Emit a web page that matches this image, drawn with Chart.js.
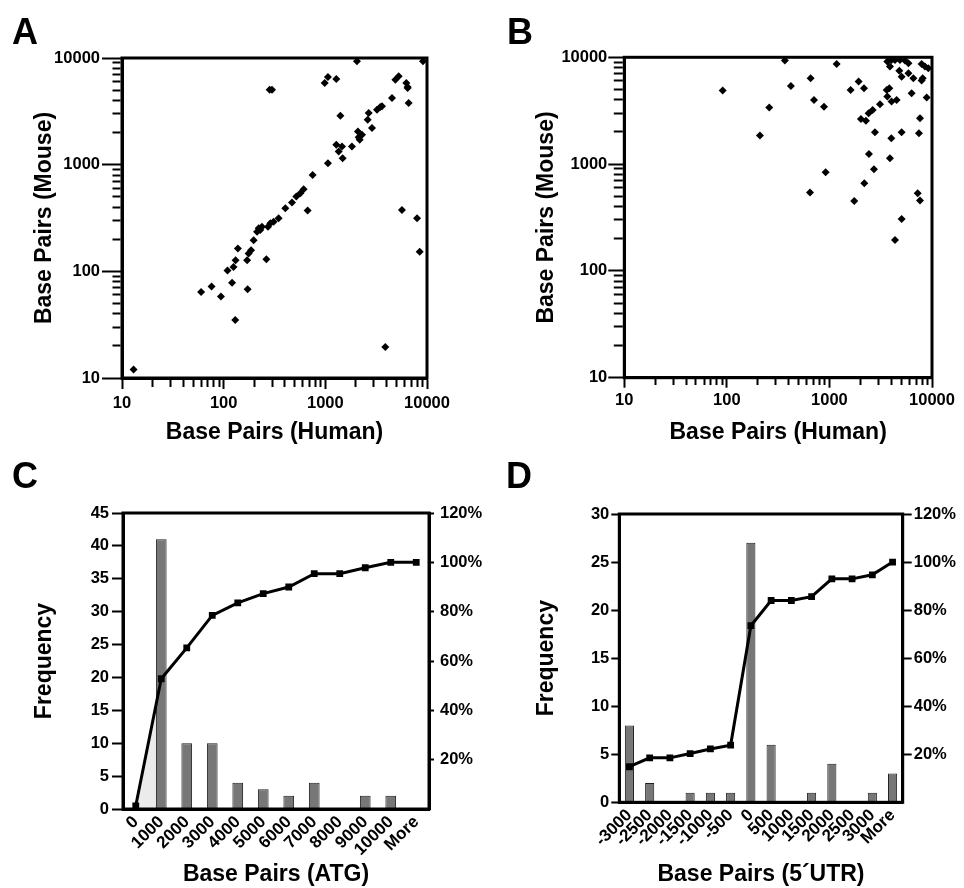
<!DOCTYPE html>
<html>
<head>
<meta charset="utf-8">
<script src="https://cdn.jsdelivr.net/npm/chart.js@4.4.1/dist/chart.umd.min.js"></script>
<style>
    body { margin: 0; background: #fff; overflow: hidden; }
    .painel { position: absolute; width: 482px; height: 444px; }
    .letra { position: absolute; font: bold 36px "Liberation Sans", Arial, sans-serif; line-height: 1; color: #000; }
</style>
</head>
<body>
<div class="painel" style="left:0;top:0"><canvas id="graficoA"></canvas></div>
<div class="painel" style="left:482px;top:0"><canvas id="graficoB"></canvas></div>
<div class="painel" style="left:0;top:444px"><canvas id="graficoC"></canvas></div>
<div class="painel" style="left:482px;top:444px"><canvas id="graficoD"></canvas></div>
<div class="letra" style="left:12px;top:14px">A</div>
<div class="letra" style="left:507px;top:14px">B</div>
<div class="letra" style="left:12px;top:458px">C</div>
<div class="letra" style="left:506px;top:458px">D</div>

<script>
// Panel A: intron lengths, human vs mouse
const humanoA = [13, 60, 76, 94, 109, 121, 125, 131, 138, 130, 170, 176, 172, 186, 197, 213, 221, 229, 238, 263,
    273, 288, 299, 283, 310, 347, 404, 470, 518, 568, 612, 670, 750, 985, 1061, 1283, 1061, 1283, 1405, 1353,
    1459, 1480, 1828, 2047, 2094, 2128, 2176, 2295, 2608, 2668, 2877, 3223, 3475, 3608, 4526, 4883, 5265, 5670,
    6262, 6450, 6450, 6600, 7980, 8475, 9140, 3890];
const camundongoA = [12, 64, 72, 58, 102, 78, 110, 127, 164, 35, 127, 147, 68, 158, 196, 235, 253, 244, 262, 130,
    262, 282, 5050, 5050, 292, 314, 390, 441, 502, 539, 589, 371, 802, 5820, 6640, 6350, 1033, 1536, 2872, 1327,
    1480, 1148, 1480, 9310, 2046, 1811, 1709, 1906, 2636, 3048, 2201, 3274, 3467, 3520, 4211, 6252, 6730, 376,
    5820, 5223, 5345, 3777, 314, 153, 9310, 19.5];

// Panel B
const humanoB = [91, 210, 259, 368, 421, 656, 707, 646, 885, 918, 1175, 1610, 1927, 2172, 2187, 1746, 2028, 2270,
    2410, 2636, 2427, 2778, 2717, 3110, 3615, 3837, 3667, 4036, 4518, 4009, 3890, 4355, 5057, 5057, 7640, 7460,
    7250, 7640, 8870, 3665, 4036, 4355, 4870, 5450, 5890, 3890, 4800, 5057, 5890, 6580, 6330, 7920, 8110, 7920,
    8530, 9200];
const camundongoB = [4875, 1850, 3380, 9310, 5400, 6370, 3980, 541, 3450, 838, 8670, 4940, 5920, 5130, 661, 452,
    2650, 2553, 2990, 3213, 1245, 1986, 893, 3630, 4940, 5130, 4285, 3846, 3980, 1746, 1133, 195, 1986, 306, 2685,
    1942, 533, 455, 4197, 9120, 9440, 9440, 9440, 9310, 8790, 8180, 7500, 6590, 7080, 6370, 4600, 6050, 6370, 8670,
    8180, 7890];

const ticksLog = [10, 20, 30, 40, 50, 60, 70, 80, 90, 100, 200, 300, 400, 500, 600, 700, 800, 900,
    1000, 2000, 3000, 4000, 5000, 6000, 7000, 8000, 9000, 10000];
const rotulosLog = [10, 100, 1000, 10000];

// Panel C: distance to ATG
const categoriasC = ['0', '1000', '2000', '3000', '4000', '5000', '6000', '7000', '8000', '9000', '10000', 'More'];
const frequenciaC = [0, 41, 10, 10, 4, 3, 2, 4, 0, 2, 2, 0];
const acumuladoC = [1.3, 52.8, 65.3, 78.5, 83.6, 87.3, 90, 95.4, 95.4, 97.8, 100, 100];

// Panel D: 5'UTR
const categoriasD = ['-3000', '-2500', '-2000', '-1500', '-1000', '-500', '0', '500', '1000', '1500', '2000', '2500', '3000', 'More'];
const frequenciaD = [8, 2, 0, 1, 1, 1, 27, 6, 0, 1, 4, 0, 1, 3];
const acumuladoD = [14.8, 18.5, 18.5, 20.3, 22.2, 23.8, 73.5, 84, 84, 85.6, 93, 93, 94.7, 100];

Chart.defaults.font.family = '"Liberation Sans", Arial, Helvetica, sans-serif';
Chart.defaults.font.weight = 'bold';
Chart.defaults.color = '#000';
Chart.defaults.animation = false;
Chart.defaults.plugins.legend.display = false;
Chart.defaults.plugins.tooltip.enabled = false;

const fonteTick = { size: 16.5, weight: 'bold' };
const fonteTitulo = { size: 23, weight: 'bold', lineHeight: 1 };

// caixa fechada em volta da area do grafico
const moldura = {
    id: 'moldura',
    afterDraw(chart) {
        const a = chart.chartArea;
        const ctx = chart.ctx;
        ctx.save();
        ctx.strokeStyle = '#000';
        ctx.lineWidth = 3;
        ctx.strokeRect(a.left, a.top, a.right - a.left, a.bottom - a.top);
        ctx.restore();
    }
};

function eixoLog(posicao, titulo, tamanho, marca, marcaMenor, espaco, tituloPad) {
    const horizontal = posicao === 'bottom';
    return {
        type: 'logarithmic',
        position: posicao,
        min: 10,
        max: 10000,
        afterBuildTicks: (eixo) => { eixo.ticks = ticksLog.map(v => ({ value: v })); },
        afterFit: (eixo) => { if (horizontal) eixo.height = tamanho; else eixo.width = tamanho; },
        border: { color: '#000', width: 3 },
        grid: {
            drawOnChartArea: false,
            tickLength: marca,
            tickWidth: 2,
            tickColor: '#000',
            // marcas menores mais curtas
            tickBorderDash: (c) => (!c.tick || rotulosLog.includes(c.tick.value)) ? [] :
                (horizontal ? [marcaMenor, 100] : [0, marca - 1.5 - marcaMenor, marcaMenor, 100])
        },
        ticks: {
            autoSkip: false,
            maxRotation: 0,
            padding: espaco,
            font: fonteTick,
            callback: (v) => rotulosLog.includes(v) ? String(v) : ''
        },
        title: {
            display: true,
            text: titulo,
            font: fonteTitulo,
            padding: horizontal ? { top: 0, bottom: tituloPad } : { top: tituloPad, bottom: 0 }
        }
    };
}

function criarGraficoLog(id, humano, camundongo, cfg) {
    const pontos = humano.map((h, i) => ({ x: h, y: camundongo[i] }));
    return new Chart(id, {
        type: 'scatter',
        data: {
            datasets: [{
                data: pontos,
                pointStyle: 'rectRot',
                pointRadius: 4,
                backgroundColor: '#000',
                borderWidth: 0,
                clip: false
            }]
        },
        options: {
            maintainAspectRatio: false,
            layout: { padding: cfg.padding },
            scales: {
                x: eixoLog('bottom', 'Base Pairs (Human)', cfg.alturaX, cfg.marcaX, cfg.menorX, cfg.espacoX, cfg.tituloX),
                y: eixoLog('left', 'Base Pairs (Mouse)', cfg.larguraY, cfg.marcaY, cfg.menorY, cfg.espacoY, cfg.tituloY)
            }
        },
        plugins: [moldura]
    });
}

function criarGraficoBarra(id, categorias, frequencia, acumulado, maximo, tituloX, cfg, sombra) {
    const datasets = [{
        type: 'line',
        data: acumulado,
        yAxisID: 'y1',
        borderColor: '#000',
        borderWidth: 3,
        lineTension: 0,
        fill: false,
        pointStyle: 'rect',
        pointRadius: 4.8,
        pointBackgroundColor: '#000',
        pointBorderWidth: 0,
        order: 0
    }, {
        type: 'bar',
        data: frequencia,
        yAxisID: 'y',
        backgroundColor: '#777777',
        borderColor: '#1e1e1e',
        borderWidth: 1,
        barPercentage: cfg.barra,
        categoryPercentage: 1,
        order: 1
    }];
    if (sombra) {
        datasets.push({
            type: 'line',
            data: sombra,
            yAxisID: 'y1',
            borderWidth: 0,
            pointRadius: 0,
            backgroundColor: '#ebebeb',
            fill: 'origin',
            order: 2
        });
    }
    return new Chart(id, {
        data: { labels: categorias, datasets: datasets },
        options: {
            maintainAspectRatio: false,
            layout: { padding: cfg.padding },
            scales: {
                x: {
                    offset: true,
                    afterFit: (eixo) => { eixo.height = cfg.alturaX; },
                    border: { color: '#000', width: 3 },
                    grid: { drawOnChartArea: false, drawTicks: false },
                    ticks: { autoSkip: false, minRotation: 45, maxRotation: 45, padding: 3, font: { size: 17, weight: 'bold' } },
                    title: { display: true, text: tituloX, font: { size: 23, weight: 'bold', lineHeight: 1 }, padding: { top: 0, bottom: 2 } }
                },
                y: {
                    position: 'left',
                    min: 0,
                    max: maximo,
                    afterFit: (eixo) => { eixo.width = cfg.larguraY; },
                    border: { color: '#000', width: 3 },
                    grid: { drawOnChartArea: false, tickLength: cfg.marcaY, tickWidth: 2, tickColor: '#000' },
                    ticks: { stepSize: 5, padding: cfg.espacoY, font: fonteTick },
                    title: { display: true, text: 'Frequency', font: fonteTitulo, padding: { top: cfg.tituloY, bottom: 0 } }
                },
                y1: {
                    position: 'right',
                    min: 0,
                    max: 120,
                    afterFit: (eixo) => { eixo.width = cfg.larguraY1; },
                    border: { color: '#000', width: 3 },
                    grid: {
                        drawOnChartArea: false, tickLength: cfg.marcaY1, tickWidth: 2,
                        tickColor: (c) => (c.tick && c.tick.value === 0) ? 'rgba(0,0,0,0)' : '#000'
                    },
                    ticks: { stepSize: 20, padding: cfg.espacoY1, font: fonteTick, callback: (v) => v === 0 ? '' : v + '%' }
                }
            }
        },
        plugins: [moldura]
    });
}

criarGraficoLog('graficoA', humanoA, camundongoA, {
    padding: { top: 58, right: 55, bottom: 0, left: 0 },
    alturaX: 66, marcaX: 11, menorX: 7, espacoX: 5, tituloX: 0,
    larguraY: 122, marcaY: 20, menorY: 8, espacoY: 2, tituloY: 33
});

criarGraficoLog('graficoB', humanoB, camundongoB, {
    padding: { top: 57.3, right: 32, bottom: 0, left: 0 },
    alturaX: 66.3, marcaX: 10, menorX: 6, espacoX: 3, tituloX: 0,
    larguraY: 142.3, marcaY: 16, menorY: 9, espacoY: 1, tituloY: 53
});

criarGraficoBarra('graficoC', categoriasC, frequenciaC, acumuladoC, 45, 'Base Pairs (ATG)', {
    padding: { top: 69, right: 0, bottom: 0, left: 0 },
    barra: 0.42, alturaX: 79,
    larguraY: 123, marcaY: 11, espacoY: 3, tituloY: 33,
    larguraY1: 53, marcaY1: 5, espacoY1: 6
}, acumuladoC.slice(0, 2));

criarGraficoBarra('graficoD', categoriasD, frequenciaD, acumuladoD, 30, 'Base Pairs (5\u00b4UTR)', {
    padding: { top: 70, right: 0, bottom: 0, left: 0 },
    barra: 0.45, alturaX: 85.7,
    larguraY: 137.3, marcaY: 8, espacoY: 2, tituloY: 53,
    larguraY1: 61.3, marcaY1: 9, espacoY1: 2
});
</script>
</body>
</html>
